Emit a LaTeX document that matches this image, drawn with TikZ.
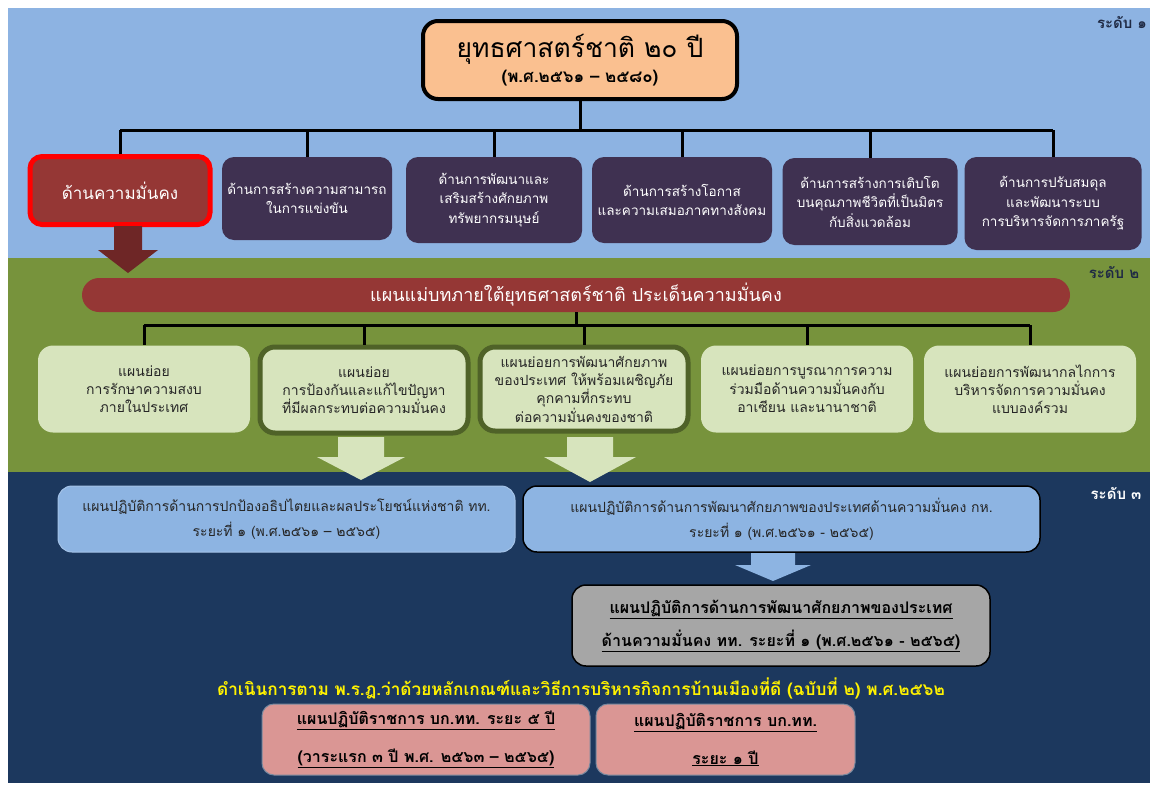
\documentclass[tikz,border=0pt]{standalone}
\usepackage{fontspec}
\setmainfont[Script=Thai]{Loma}
\usetikzlibrary{calc,positioning}
\definecolor{skyband}{HTML}{8DB3E2}
\definecolor{grassband}{HTML}{77933C}
\definecolor{navyband}{HTML}{1C385E}
\definecolor{peach}{HTML}{FAC090}
\definecolor{plum}{HTML}{3F3151}
\definecolor{brick}{HTML}{953735}
\definecolor{brickdark}{HTML}{6E2626}
\definecolor{sage}{HTML}{D7E4BD}
\definecolor{olive}{HTML}{4F6228}
\definecolor{paleblue}{HTML}{8DB4E2}
\definecolor{slate}{HTML}{A6A6A6}
\definecolor{rose}{HTML}{DA9694}
\definecolor{inkblue}{HTML}{1F2A44}

\tikzset{
  bus/.style={black, line width=3pt},
  strategy/.style={rounded corners=12pt, fill=plum, text=white, align=center,
    inner sep=0pt, font=\fontsize{13.5}{19.5}\selectfont},
  subplan/.style={rounded corners=15pt, fill=sage, text=black!85, align=center,
    inner sep=0pt, minimum width=212pt, minimum height=87pt,
    font=\fontsize{14}{18}\selectfont},
  actplan/.style={rounded corners=14pt, fill=paleblue, text=black!85, align=center,
    inner sep=0pt, minimum height=66pt, font=\fontsize{14}{25}\selectfont},
  govplan/.style={rounded corners=12pt, fill=rose, draw=navyband!60, line width=1pt,
    align=center, inner sep=0pt, minimum height=71pt,
    font=\bfseries\fontsize{16}{38}\selectfont},
  levelmark/.style={font=\bfseries\fontsize{15}{18}\selectfont}
}

\begin{document}
\begin{tikzpicture}[x=1pt, y=-1pt]
  \useasboundingbox (0,0) rectangle (1156,790);
  \fill[white] (0,0) rectangle (1156,790);
  \fill[skyband] (8,8) rectangle (1150,258);
  \fill[grassband] (8,258) rectangle (1150,472);
  \fill[navyband] (8,472) rectangle (1150,783);

  \node[levelmark, inkblue] (lv1) at (1122,22) {ระดับ ๑};
  \node[levelmark, inkblue] (lv2) at (1114,272) {ระดับ ๒};
  \node[levelmark, white] (lv3) at (1116,493) {ระดับ ๓};

  % level 1
  \node[draw=black, line width=4pt, rounded corners=15pt, fill=peach, align=center,
    inner sep=0pt, minimum width=314pt, minimum height=78pt] (top) at (580,60)
    {{\fontsize{26.5}{32}\selectfont ยุทธศาสตร์ชาติ ๒๐ ปี}\\[5pt]
     {\bfseries\fontsize{17}{20}\selectfont (พ.ศ.๒๕๖๑ – ๒๕๘๐)}};

  \node[strategy, fill=brick, draw=red, line width=5pt, minimum width=180pt,
    minimum height=68pt, font=\fontsize{17}{20}\selectfont] (d1) at (120,190.5) {ด้านความมั่นคง};
  \node[strategy, minimum width=170pt, minimum height=83pt] (d2) at (307,198.5)
    {ด้านการสร้างความสามารถ\\ในการแข่งขัน};
  \node[strategy, minimum width=176pt, minimum height=86pt] (d3) at (494,200)
    {ด้านการพัฒนาและ\\เสริมสร้างศักยภาพ\\ทรัพยากรมนุษย์};
  \node[strategy, minimum width=180pt, minimum height=86pt] (d4) at (682,200)
    {ด้านการสร้างโอกาส\\และความเสมอภาคทางสังคม};
  \node[strategy, minimum width=175pt, minimum height=87pt] (d5) at (870,201.5)
    {ด้านการสร้างการเติบโต\\บนคุณภาพชีวิตที่เป็นมิตร\\กับสิ่งแวดล้อม};
  \node[strategy, minimum width=177pt, minimum height=93pt] (d6) at (1053,203.5)
    {ด้านการปรับสมดุล\\และพัฒนาระบบ\\การบริหารจัดการภาครัฐ};

  \coordinate (bus1) at (580,130);
  \draw[bus] (top.south) -- (top.south |- bus1);
  \draw[bus] (d1.north |- bus1) -- (d6.north |- bus1);
  \foreach \d in {d1,d2,d3,d4,d5,d6}
    \draw[bus] (\d.north |- bus1) -- (\d.north);

  \coordinate (arr1) at (128,226);
  \fill[brickdark] (arr1) ++(-14,0) -- ++(0,24) -- ++(-16,0) -- ++(30,23)
    -- ++(30,-23) -- ++(-16,0) -- ++(0,-24) -- cycle;

  % level 2
  \node[rounded corners=17pt, fill=brick, text=white, inner sep=0pt,
    minimum width=988pt, minimum height=34pt, font=\fontsize{18}{20}\selectfont]
    (master) at (576,295) {แผนแม่บทภายใต้ยุทธศาสตร์ชาติ ประเด็นความมั่นคง};

  \node[subplan] (p1) at (144,389) {แผนย่อย\\การรักษาความสงบ\\ภายในประเทศ};
  \node[subplan, draw=olive, line width=5pt, minimum width=208pt, minimum height=86pt]
    (p2) at (364,390) {แผนย่อย\\การป้องกันและแก้ไขปัญหา\\ที่มีผลกระทบต่อความมั่นคง};
  \node[subplan, draw=olive, line width=5pt, minimum width=208pt, minimum height=84pt]
    (p3) at (584,389) {แผนย่อยการพัฒนาศักยภาพ\\ของประเทศ ให้พร้อมเผชิญภัย\\คุกคามที่กระทบ\\ต่อความมั่นคงของชาติ};
  \node[subplan] (p4) at (807,389) {แผนย่อยการบูรณาการความ\\ร่วมมือด้านความมั่นคงกับ\\อาเซียน และนานาชาติ};
  \node[subplan] (p5) at (1030,389) {แผนย่อยการพัฒนากลไกการ\\บริหารจัดการความมั่นคง\\แบบองค์รวม};

  \coordinate (bus2) at (576,325);
  \draw[bus] (master.south) -- (master.south |- bus2);
  \draw[bus] (p1.north |- bus2) -- (p5.north |- bus2);
  \foreach \p in {p1,p2,p3,p4,p5}
    \draw[bus] (\p.north |- bus2) -- (\p.north);

  \coordinate (arr2) at (361,437);
  \coordinate (arr3) at (590,437);
  \fill[sage] (arr2) ++(-23,0) -- ++(0,20) -- ++(-21,0) -- ++(44,23)
    -- ++(44,-23) -- ++(-21,0) -- ++(0,-20) -- cycle;
  \fill[sage] (arr3) ++(-23,0) -- ++(0,20) -- ++(-23,0) -- ++(46,25)
    -- ++(46,-25) -- ++(-23,0) -- ++(0,-20) -- cycle;

  % level 3
  \node[actplan, draw=paleblue!80!white, line width=1pt, minimum width=457pt]
    (a1) at (286.5,519) {แผนปฏิบัติการด้านการปกป้องอธิปไตยและผลประโยชน์แห่งชาติ ทท.\\ระยะที่ ๑ (พ.ศ.๒๕๖๑ – ๒๕๖๕)};
  \node[actplan, draw=black, line width=1.5pt, minimum width=517pt]
    (a2) at (781.5,519) {แผนปฏิบัติการด้านการพัฒนาศักยภาพของประเทศด้านความมั่นคง กห.\\ระยะที่ ๑ (พ.ศ.๒๕๖๑ - ๒๕๖๕)};

  \coordinate (arr4) at (773,553);
  \fill[paleblue] (arr4) ++(-22,0) -- ++(0,12) -- ++(-16,0) -- ++(38,16)
    -- ++(38,-16) -- ++(-16,0) -- ++(0,-12) -- cycle;

  \node[rounded corners=14pt, fill=slate, draw=black, line width=1.5pt, align=center,
    inner sep=0pt, minimum width=418pt, minimum height=81pt,
    font=\bfseries\fontsize{16}{33}\selectfont] (a3) at (781,625.5)
    {\underline{แผนปฏิบัติการด้านการพัฒนาศักยภาพของประเทศ}\\
     \underline{ด้านความมั่นคง ทท. ระยะที่ ๑ (พ.ศ.๒๕๖๑ - ๒๕๖๕)}};

  \node[text=yellow, font=\bfseries\fontsize{17.2}{19}\selectfont] (decree) at (581,688)
    {ดำเนินการตาม พ.ร.ฎ.ว่าด้วยหลักเกณฑ์และวิธีการบริหารกิจการบ้านเมืองที่ดี (ฉบับที่ ๒) พ.ศ.๒๕๖๒};

  \node[govplan, minimum width=328pt] (g1) at (426,739.5)
    {\underline{แผนปฏิบัติราชการ บก.ทท. ระยะ ๕ ปี}\\
     \underline{(วาระแรก ๓ ปี พ.ศ. ๒๕๖๓ – ๒๕๖๕)}};
  \node[govplan, minimum width=259pt] (g2) at (725.5,739.5)
    {\underline{แผนปฏิบัติราชการ บก.ทท.}\\\underline{ระยะ ๑ ปี}};
\end{tikzpicture}
\end{document}
